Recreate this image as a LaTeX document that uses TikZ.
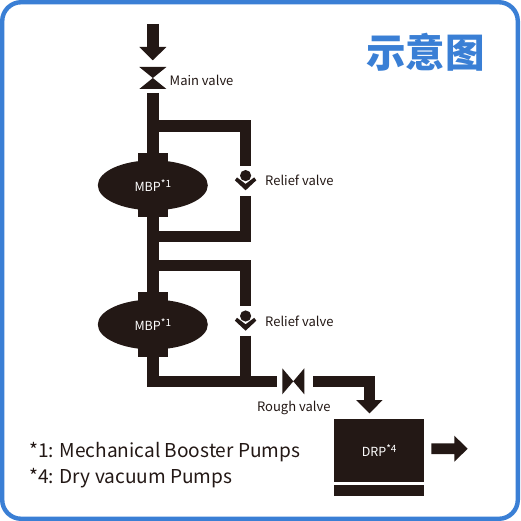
\documentclass[tikz,border=0pt]{standalone}
\usepackage{fontspec}
\setmainfont{Noto Sans CJK SC}
\usetikzlibrary{shapes.geometric}
\definecolor{ink}{HTML}{231815}
\definecolor{frameblue}{HTML}{3A7FD5}
\newcommand{\supmark}[1]{\raisebox{4pt}{\fontsize{10}{11}\selectfont #1}}
\tikzset{
  x=1pt,y=-1pt,
  pipe/.style={draw=ink,line width=11.4pt,line cap=butt,line join=miter},
  solid shape/.style={fill=ink,draw=none},
  pump/.style={ellipse,fill=ink,draw=none,minimum width=110pt,minimum height=50pt,inner sep=0pt,text=white,font=\fontsize{12.5}{14}\selectfont},
  lbl/.style={text=ink,inner sep=0pt,font=\fontsize{13}{15}\selectfont},
  legend/.style={text=ink,inner sep=0pt,anchor=west,font=\fontsize{19.1}{22}\selectfont},
}
\newcommand{\reliefvalve}[2]{%
  \begin{scope}[shift={(#1,#2)}]
    \fill[ink] (0,-5) circle (5.6);
    \fill[ink] (-10.7,-0.3) -- (-8.6,-3.2) -- (0,3.3) -- (8.6,-3.2) -- (10.7,-0.3) -- (0,9.7) -- cycle;
  \end{scope}}
\begin{document}
\begin{tikzpicture}
\useasboundingbox (0,0) rectangle (520,521);
\fill[white] (0,0) rectangle (520,521);
\draw[frameblue,line width=4.4pt,rounded corners=19pt] (2.2,2.2) rectangle (517.8,518.8);

% named points
\coordinate (inTop) at (152.8,24);
\coordinate (inEnd) at (152.8,47.5);
\coordinate (mainBelow) at (152.8,93);
\coordinate (mainEnd) at (152.8,386.9);
\coordinate (t1) at (152.8,126);
\coordinate (c1) at (245.4,126);
\coordinate (r1top) at (245.4,166);
\coordinate (r1bot) at (245.4,196);
\coordinate (c2) at (245.4,236.3);
\coordinate (t2) at (152.8,236.3);
\coordinate (t3) at (152.8,265.5);
\coordinate (c3) at (245.4,265.5);
\coordinate (r2top) at (245.4,305.7);
\coordinate (r2bot) at (245.4,335.7);
\coordinate (c4) at (245.4,381.2);
\coordinate (cornerL) at (147.1,381.2);
\coordinate (roughIn) at (276.7,381.2);
\coordinate (roughOut) at (313.3,381.2);
\coordinate (turn) at (369.5,381.2);
\coordinate (downEnd) at (369.5,400.5);

% top arrow
\draw[pipe] (inTop) -- (inEnd);
\fill[ink] (139.3,47) -- (166.4,47) -- (152.8,60.3) -- cycle;
% main valve
\fill[ink] (139.3,67) -- (166.4,67) -- (139.3,89) -- (166.4,89) -- cycle;

% pipes
\draw[pipe] (mainBelow) -- (mainEnd);
\draw[pipe] (cornerL) -- (roughIn);
\draw[pipe] (t1) -- (c1) -- (r1top);
\draw[pipe] (r1bot) -- (c2) -- (t2);
\draw[pipe] (t3) -- (c3) -- (r2top);
\draw[pipe] (r2bot) -- (c4);
\draw[pipe] (roughOut) -- (turn) -- (downEnd);

% pumps
\fill[ink] (138.3,153.3) rectangle (167.7,217.3);
\fill[ink] (138.3,292.3) rectangle (167.7,356.7);
\node[pump] (mbpA) at (152.8,185.3) {MBP\supmark{*1}};
\node[pump] (mbpB) at (152.8,324.5) {MBP\supmark{*1}};

% relief valves
\reliefvalve{245.6}{180.6}
\reliefvalve{245.6}{321}

% rough valve
\fill[ink] (282.3,368.3) -- (293.3,381.3) -- (304.3,368.3) -- (304.3,394.3) -- (293.3,381.3) -- (282.3,394.3) -- cycle;

% arrow into DRP
\fill[ink] (356,400) -- (382.7,400) -- (369.5,413.3) -- cycle;

% DRP
\node[solid shape,minimum width=90.3pt,minimum height=62.7pt,inner sep=0pt,text=white,font=\fontsize{12.5}{14}\selectfont] (drp) at (379.15,450.65) {DRP\supmark{*4}};
\fill[ink] (334,485) rectangle (424.3,496);

% out arrow
\fill[ink] (431.3,443.3) -- (454.3,443.3) -- (454.3,435.7) -- (467.7,448.7) -- (454.3,461.7) -- (454.3,454) -- (431.3,454) -- cycle;

% labels
\node[lbl,anchor=west] (lMain) at (169.5,80) {Main valve};
\node[lbl,anchor=west] (lRelA) at (265,180.5) {Relief valve};
\node[lbl,anchor=west] (lRelB) at (265,321) {Relief valve};
\node[lbl] (lRough) at (293.8,407.8) {Rough valve};
\node[legend] (legA) at (29,452.5) {*1: Mechanical Booster Pumps};
\node[legend] (legB) at (29,478.5) {*4: Dry vacuum Pumps};
\node[text=frameblue,inner sep=0pt,font=\fontsize{39.5}{42}\selectfont\bfseries] (title) at (425.5,52.5) {示意图};
\end{tikzpicture}
\end{document}
